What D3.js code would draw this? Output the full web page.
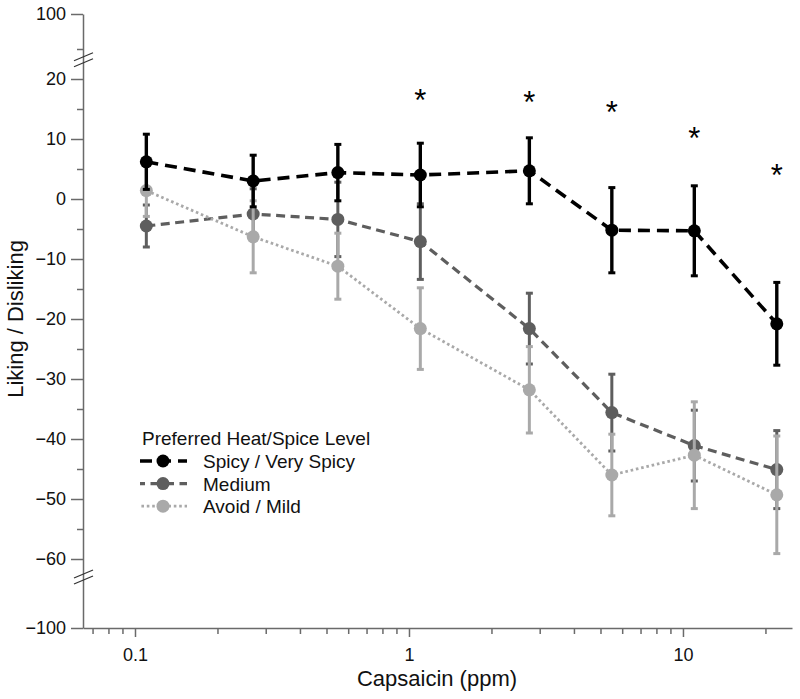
<!DOCTYPE html>
<html>
<head>
<meta charset="utf-8">
<script src="https://cdn.jsdelivr.net/npm/d3@7"></script>
<style>
  body { margin: 0; background: #fff; }
  svg { display: block; font-family: "Liberation Sans", Arial, Helvetica, sans-serif; }
</style>
</head>
<body>
<svg id="chart" width="800" height="699"></svg>
<script>
// ---- data ----
const concentrations = [0.11, 0.27, 0.55, 1.1, 2.75, 5.5, 11, 22];
const spicyMean  = [6.2, 3.0, 4.4, 4.0, 4.7, -5.2, -5.3, -20.8];
const spicyErr   = [4.6, 4.3, 4.7, 5.3, 5.5, 7.1, 7.5, 6.9];
const mediumMean = [-4.5, -2.5, -3.4, -7.1, -21.6, -35.6, -41.1, -45.1];
const mediumErr  = [3.5, 4.2, 6.2, 6.3, 5.9, 6.4, 5.9, 6.5];
const avoidMean  = [1.4, -6.3, -11.2, -21.6, -31.8, -46.0, -42.7, -49.3];
const avoidErr   = [4.3, 6.0, 5.5, 6.8, 7.2, 6.8, 8.9, 9.8];
const seriesNames = ["Spicy / Very Spicy", "Medium", "Avoid / Mild"];
const legendTitle = "Preferred Heat/Spice Level";
const starConc = [1.1, 2.75, 5.5, 11, 22];
const starLevel = [17.6, 17.3, 15.7, 11.3, 5.1];
const yMajorTicks = [100, 20, 10, 0, -10, -20, -30, -40, -50, -60, -100];
const yMinorTicks = [25, 15, 5, -5, -15, -25, -35, -45, -55];
const xMajorTicks = [0.1, 1, 10];
const xMinorTicks = [0.07, 0.08, 0.09, 0.2, 0.3, 0.4, 0.5, 0.6, 0.7, 0.8, 0.9, 2, 3, 4, 5, 6, 7, 8, 9, 20];
const yBreaks = [23.2, -63];
const xTitle = "Capsaicin (ppm)";
const yTitle = "Liking / Disliking";

// ---- scales ----
const svg = d3.select("#chart");
const x = d3.scaleLog().domain([0.0646, 25]).range([83, 792]);
// broken axis: piecewise linear (main segment 6 px/unit)
const y = d3.scaleLinear().domain([-100, -63, 26, 100]).range([628, 577, 43, 14]);

const axisColor = "#6a6a6a";

// ---- axes ----
const gx = svg.append("g").attr("transform", `translate(0,${y(-100)})`);
gx.call(d3.axisBottom(x).tickValues(xMinorTicks).tickSize(6).tickSizeOuter(0).tickFormat(""));
const gx2 = svg.append("g").attr("transform", `translate(0,${y(-100)})`);
gx2.call(d3.axisBottom(x).tickValues(xMajorTicks).tickSize(9).tickSizeOuter(0).tickPadding(11).tickFormat(d3.format("~g")));
gx2.select(".domain").remove();

const gy = svg.append("g").attr("transform", `translate(${x.range()[0]},0)`);
gy.call(d3.axisLeft(y).tickValues(yMinorTicks).tickSize(6).tickSizeOuter(0).tickFormat(""));
const gy2 = svg.append("g").attr("transform", `translate(${x.range()[0]},0)`);
gy2.call(d3.axisLeft(y).tickValues(yMajorTicks).tickSize(12).tickSizeOuter(0).tickPadding(5));
gy2.select(".domain").remove();

svg.selectAll(".domain, .tick line").attr("stroke", axisColor).attr("stroke-width", 1.5);
svg.selectAll(".tick text").attr("fill", "#111").style("font-size", "18px")
   .style("font-family", '"Liberation Sans", Arial, sans-serif');

// axis break marks
yBreaks.forEach(v => {
  const cy = y(v), cx = x.range()[0];
  [-3, 3].forEach(off => {
    svg.append("line")
      .attr("x1", cx - 9).attr("y1", cy + off + 4)
      .attr("x2", cx + 10).attr("y2", cy + off - 4)
      .attr("stroke", "#333").attr("stroke-width", 1.2);
  });
});

// titles
svg.append("text").attr("x", 437).attr("y", 686).attr("text-anchor", "middle")
  .style("font-size", "22px").attr("fill", "#111").text(xTitle);
svg.append("text").attr("transform", "translate(23,319) rotate(-90)").attr("text-anchor", "middle")
  .style("font-size", "22px").attr("fill", "#111").text(yTitle);

// ---- series ----
const series = [
  { mean: mediumMean, err: mediumErr, color: "#5e5e5e", width: 3.2, dash: "9,5.5", barW: 3, name: seriesNames[1] },
  { mean: avoidMean,  err: avoidErr,  color: "#a9a9a9", width: 2.8, dash: "2.6,2.8", barW: 3, name: seriesNames[2] },
  { mean: spicyMean,  err: spicyErr,  color: "#000000", width: 3.6, dash: "12,7", barW: 3.4, name: seriesNames[0] }
];

const line = d3.line().x(d => x(d.c)).y(d => y(d.v));

series.forEach(s => {
  const pts = concentrations.map((c, i) => ({ c, v: s.mean[i], e: s.err[i] }));
  const g = svg.append("g");
  g.append("path").datum(pts).attr("d", line).attr("fill", "none")
    .attr("stroke", s.color).attr("stroke-width", s.width).attr("stroke-dasharray", s.dash);
  const eb = g.selectAll(".eb").data(pts).enter().append("g");
  eb.append("line").attr("x1", d => x(d.c)).attr("x2", d => x(d.c))
    .attr("y1", d => y(d.v + d.e)).attr("y2", d => y(d.v - d.e))
    .attr("stroke", s.color).attr("stroke-width", s.barW);
  [1, -1].forEach(sign => {
    eb.append("line").attr("x1", d => x(d.c) - 3.5).attr("x2", d => x(d.c) + 3.5)
      .attr("y1", d => y(d.v + sign * d.e)).attr("y2", d => y(d.v + sign * d.e))
      .attr("stroke", s.color).attr("stroke-width", 3);
  });
  eb.append("circle").attr("cx", d => x(d.c)).attr("cy", d => y(d.v)).attr("r", 6.5)
    .attr("fill", s.color);
});

// significance stars
svg.selectAll(".star").data(starConc.map((c, i) => ({ c, v: starLevel[i] }))).enter()
  .append("text").attr("x", d => x(d.c)).attr("y", d => y(d.v) + 18)
  .attr("text-anchor", "middle").style("font-size", "31px").attr("fill", "#000").text("*");

// ---- legend ----
const lg = svg.append("g");
lg.append("text").attr("x", 142).attr("y", 445).style("font-size", "19px").attr("fill", "#111").text(legendTitle);
const legOrder = [series[2], series[0], series[1]];
legOrder.forEach((s, i) => {
  const by = 468 + i * 22.6;
  const cy = by - 7;
  lg.append("line").attr("x1", 140).attr("x2", 187).attr("y1", cy).attr("y2", cy)
    .attr("stroke", s.color).attr("stroke-width", s.width).attr("stroke-dasharray", s.dash)
    .attr("stroke-dashoffset", i === 0 ? 0 : 4);
  lg.append("circle").attr("cx", 163).attr("cy", cy).attr("r", 6.5).attr("fill", s.color);
  lg.append("text").attr("x", 203).attr("y", by).style("font-size", "19px").attr("fill", "#111").text(s.name);
});
</script>
</body>
</html>
